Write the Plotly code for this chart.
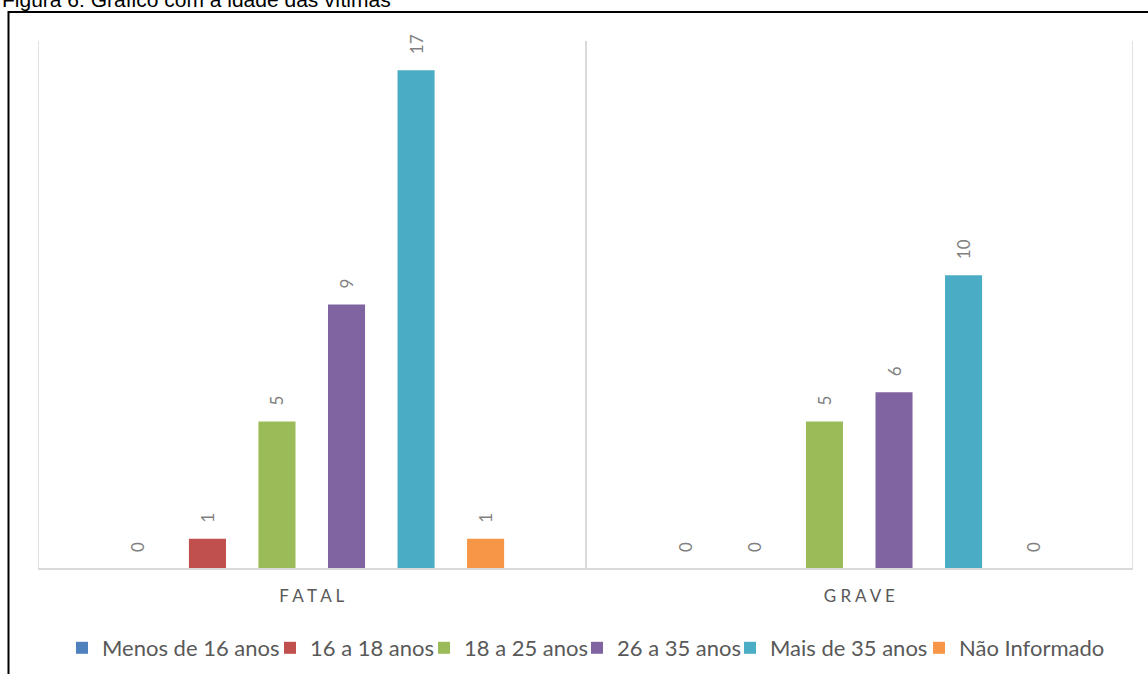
import plotly.graph_objects as go

# Victim counts by severity and age group
categories = ["FATAL", "GRAVE"]
category_labels = ["F A T A L", "G R A V E"]
age_groups = ["Menos de 16 anos", "16 a 18 anos", "18 a 25 anos",
              "26 a 35 anos", "Mais de 35 anos", "Não Informado"]
menos_16 = [0, 0]
de_16_18 = [1, 0]
de_18_25 = [5, 5]
de_26_35 = [9, 6]
mais_35 = [17, 10]
nao_informado = [1, 0]
series_values = [menos_16, de_16_18, de_18_25, de_26_35, mais_35, nao_informado]
colors = ["#4F81BD", "#C0504D", "#9BBB59", "#8064A2", "#4BACC6", "#F79646"]

title_text = "Figura 6: Gráfico com a idade das vítimas"

W, H = 1148, 674
ML, MR, MT, MB = 38, 15, 41, 106
PW, PH = W - ML - MR, H - MT - MB

# left edge (px) of each legend entry's label
legend_text_x = [102, 310, 464, 617, 770, 959]
LEGEND_TEXT_OFFSET = 40

fig = go.Figure()
legend_layouts = {}
for i, (name, vals, col) in enumerate(zip(age_groups, series_values, colors)):
    lg = "legend" if i == 0 else f"legend{i + 1}"
    fig.add_trace(go.Bar(
        x=categories, y=vals, name=name, legend=lg,
        marker=dict(color=col, line=dict(width=0)),
        texttemplate="\u00a0\u00a0\u00a0%{y}",
        textposition="outside", textangle=-90,
        textfont=dict(family="Lato", size=17, color="#808080"),
        constraintext="none", cliponaxis=False,
    ))
    legend_layouts[lg] = dict(
        orientation="h",
        x=(legend_text_x[i] - LEGEND_TEXT_OFFSET - ML) / PW, xanchor="left",
        y=(568 - 648) / PH, yanchor="middle",
        font=dict(family="Lato", size=22, color="#595959"),
        itemwidth=30, bgcolor="rgba(0,0,0,0)",
    )

fig.update_layout(
    width=W, height=H,
    margin=dict(l=ML, r=MR, t=MT, b=MB, autoexpand=False),
    paper_bgcolor="white", plot_bgcolor="white",
    barmode="group", bargap=0.238, bargroupgap=0.467,
    showlegend=True,
    xaxis=dict(type="category", range=[-0.5, 1.5],
               tickmode="array", tickvals=categories, ticktext=category_labels,
               tickson="boundaries", ticks="",
               showgrid=True, gridcolor="#D9D9D9", gridwidth=1.5,
               showline=True, linecolor="#D9D9D9", linewidth=2,
               tickfont=dict(family="Lato", size=17, color="#595959"),
               ticklabelstandoff=12),
    yaxis=dict(range=[0, 18], showgrid=False, showticklabels=False,
               zeroline=False, showline=False, ticks=""),
    font=dict(family="Lato"),
    **legend_layouts,
)

# Category boundary lines at the outer edges of the plot
for xb in (-0.5, 1.5):
    fig.add_shape(type="line", xref="x", yref="paper", x0=xb, x1=xb, y0=0, y1=1,
                  line=dict(color="#D9D9D9", width=1.5), layer="below")

# Caption above the framed chart
fig.add_annotation(
    text=title_text, xref="paper", yref="paper",
    x=(0 - ML) / PW, xanchor="left",
    y=1 + (MT + 0.5) / PH, yanchor="middle",
    showarrow=False,
    font=dict(family="Liberation Sans, Arial", size=21, color="black"),
)

# Frame around the chart
fig.add_shape(type="rect", xref="paper", yref="paper",
              x0=(8.5 - ML) / PW, x1=(W + 20 - ML) / PW,
              y0=-(MB + 20) / PH, y1=1 + (MT - 12) / PH,
              line=dict(color="black", width=2), layer="above")

fig.write_html("out.html")
